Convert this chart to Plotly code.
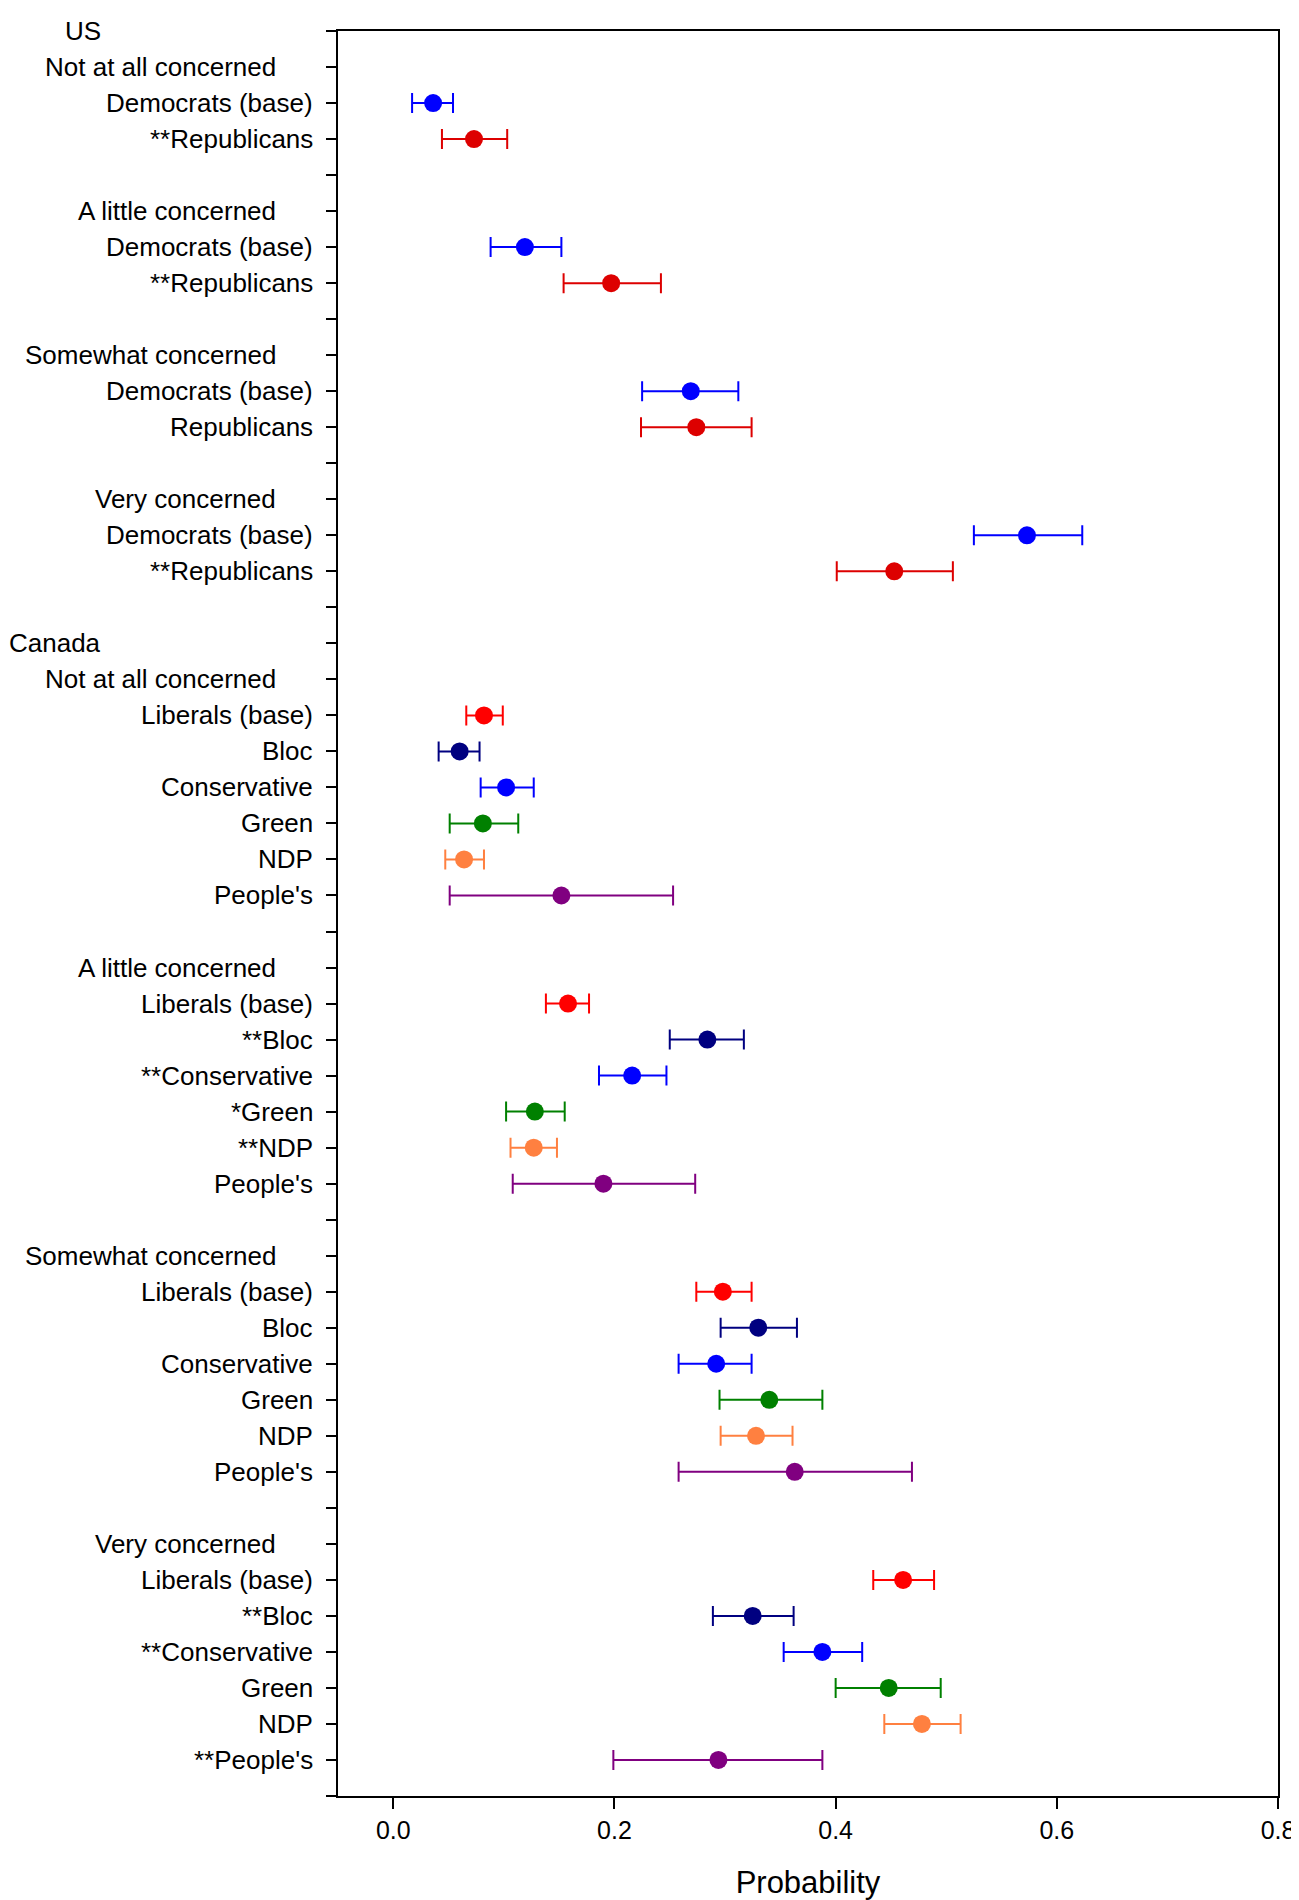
import plotly.graph_objects as go

# row labels, top to bottom (blank rows are spacers)
row_labels = [
    "US",
    "Not at all concerned", "Democrats (base)", "**Republicans", "",
    "A little concerned", "Democrats (base)", "**Republicans", "",
    "Somewhat concerned", "Democrats (base)", "Republicans", "",
    "Very concerned", "Democrats (base)", "**Republicans", "",
    "Canada",
    "Not at all concerned", "Liberals (base)", "Bloc", "Conservative", "Green", "NDP", "People's", "",
    "A little concerned", "Liberals (base)", "**Bloc", "**Conservative", "*Green", "**NDP", "People's", "",
    "Somewhat concerned", "Liberals (base)", "Bloc", "Conservative", "Green", "NDP", "People's", "",
    "Very concerned", "Liberals (base)", "**Bloc", "**Conservative", "Green", "NDP", "**People's", "",
]
countries = ["US", "Canada"]
levels = ["Not at all concerned", "A little concerned", "Somewhat concerned", "Very concerned"]

# US estimates per concern level (est, lower, upper)
dem_est = [0.036, 0.119, 0.269, 0.573]
dem_lo = [0.017, 0.088, 0.225, 0.525]
dem_hi = [0.054, 0.152, 0.312, 0.623]
rep_est = [0.073, 0.197, 0.274, 0.453]
rep_lo = [0.044, 0.154, 0.224, 0.401]
rep_hi = [0.103, 0.242, 0.324, 0.506]

# Canada estimates per concern level
lib_est = [0.082, 0.158, 0.298, 0.461]
lib_lo = [0.066, 0.138, 0.274, 0.434]
lib_hi = [0.099, 0.177, 0.324, 0.489]
bloc_est = [0.060, 0.284, 0.330, 0.325]
bloc_lo = [0.041, 0.250, 0.296, 0.289]
bloc_hi = [0.078, 0.317, 0.365, 0.362]
con_est = [0.102, 0.216, 0.292, 0.388]
con_lo = [0.079, 0.186, 0.258, 0.353]
con_hi = [0.127, 0.247, 0.324, 0.424]
grn_est = [0.081, 0.128, 0.340, 0.448]
grn_lo = [0.051, 0.102, 0.295, 0.400]
grn_hi = [0.113, 0.155, 0.388, 0.495]
ndp_est = [0.064, 0.127, 0.328, 0.478]
ndp_lo = [0.047, 0.106, 0.296, 0.444]
ndp_hi = [0.082, 0.148, 0.361, 0.513]
ppc_est = [0.152, 0.190, 0.363, 0.294]
ppc_lo = [0.051, 0.108, 0.258, 0.199]
ppc_hi = [0.253, 0.273, 0.469, 0.388]

FONT = "Liberation Sans, Arial, sans-serif"

fig = go.Figure()

def add_party(est, lo, hi, ys, color):
    fig.add_trace(go.Scatter(
        x=est, y=ys, mode="markers",
        marker=dict(color=color, size=18, line=dict(width=0)),
        error_x=dict(type="data", symmetric=False,
                     array=[h - e for h, e in zip(hi, est)],
                     arrayminus=[e - l for e, l in zip(est, lo)],
                     color=color, thickness=2, width=10),
        showlegend=False, cliponaxis=False,
    ))

# US block: level header at 1+4k, parties follow
us = [(dem_est, dem_lo, dem_hi, "#0000FF"), (rep_est, rep_lo, rep_hi, "#DD0000")]
for j, (e, l, h, c) in enumerate(us):
    add_party(e, l, h, [2 + 4 * k + j for k in range(4)], c)

# Canada block: level header at 18+8k
ca = [
    (lib_est, lib_lo, lib_hi, "#FF0000"),
    (bloc_est, bloc_lo, bloc_hi, "#000080"),
    (con_est, con_lo, con_hi, "#0000FF"),
    (grn_est, grn_lo, grn_hi, "#008000"),
    (ndp_est, ndp_lo, ndp_hi, "#FF8040"),
    (ppc_est, ppc_lo, ppc_hi, "#800080"),
]
for j, (e, l, h, c) in enumerate(ca):
    add_party(e, l, h, [19 + 8 * k + j for k in range(4)], c)

# y labels with three indentation levels
for i, lab in enumerate(row_labels):
    if not lab:
        continue
    if lab in countries:
        shift = -235
    elif lab in levels:
        shift = -60
    else:
        shift = -23
    fig.add_annotation(x=0, xref="paper", y=i, yref="y", text=lab,
                       showarrow=False, xanchor="right", yanchor="middle",
                       xshift=shift, font=dict(family=FONT, size=26, color="black"))

fig.update_xaxes(range=[-0.05, 0.8], tickvals=[0, 0.2, 0.4, 0.6, 0.8],
                 ticktext=["0.0", "0.2", "0.4", "0.6", "0.8"],
                 ticks="outside", ticklen=11, tickwidth=2, tickcolor="black",
                 showline=True, linewidth=2, linecolor="black", mirror=True,
                 showgrid=False, zeroline=False, ticklabeloverflow="allow",
                 tickfont=dict(family=FONT, size=25, color="black"),
                 title=dict(text="Probability", standoff=28,
                            font=dict(family=FONT, size=31, color="black")))
fig.update_yaxes(range=[49, 0], tickvals=list(range(50)), showticklabels=False,
                 ticks="outside", ticklen=10, tickwidth=2, tickcolor="black",
                 showline=True, linewidth=2, linecolor="black", mirror=True,
                 showgrid=False, zeroline=False)

fig.update_layout(width=1299, height=1900,
                  margin=dict(l=330, r=17, t=23, b=112),
                  plot_bgcolor="white", paper_bgcolor="white",
                  font=dict(family=FONT, color="black"))

fig.write_html("out.html")
